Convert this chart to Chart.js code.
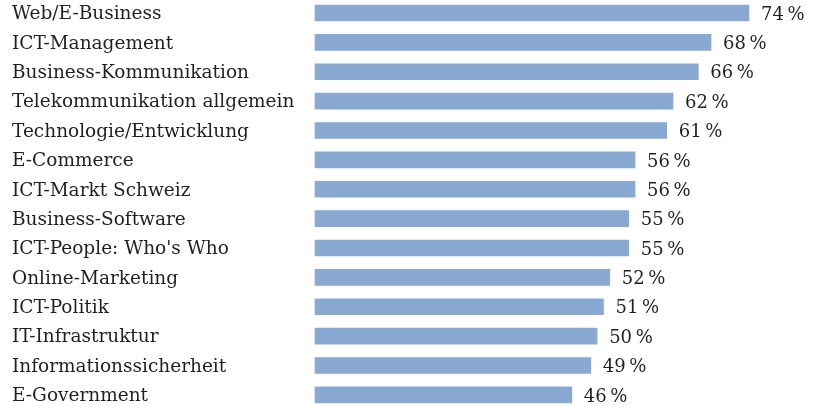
<!DOCTYPE html>
<html>
<head>
<meta charset="utf-8">
<script src="https://cdn.jsdelivr.net/npm/chart.js@4"></script>
<style>
  html, body { margin: 0; padding: 0; background: #fff; }
  #wrap { width: 816px; height: 406px; position: relative; }
</style>
</head>
<body>
<div id="wrap"><canvas id="chart"></canvas></div>
<script>
  // ── Data ─────────────────────────────────────────────
  const categories = [
    'Web/E-Business', 'ICT-Management', 'Business-Kommunikation',
    'Telekommunikation allgemein', 'Technologie/Entwicklung', 'E-Commerce',
    'ICT-Markt Schweiz', 'Business-Software', "ICT-People: Who's Who",
    'Online-Marketing', 'ICT-Politik', 'IT-Infrastruktur',
    'Informationssicherheit', 'E-Government'
  ];
  const shares = [74, 68, 66, 62, 61, 56, 56, 55, 55, 52, 51, 50, 49, 46];
  const axisMin = 5.4;
  const axisMax = 84.6;

  const serif = '"DejaVu Serif", "Liberation Serif", serif';
  const textColor = '#231f20';

  // value labels after each bar
  const valueLabels = {
    id: 'valueLabels',
    afterDatasetsDraw(chart) {
      const ctx = chart.ctx;
      const meta = chart.getDatasetMeta(0);
      ctx.save();
      ctx.font = '18px ' + serif;
      ctx.fillStyle = textColor;
      ctx.textBaseline = 'middle';
      ctx.textAlign = 'left';
      meta.data.forEach((bar, i) => {
        ctx.fillText(shares[i] + '\u2009%', bar.x + 12, bar.y + 2);
      });
      ctx.restore();
    }
  };

  new Chart(document.getElementById('chart'), {
    type: 'bar',
    data: {
      labels: categories,
      datasets: [{
        data: shares,
        base: axisMin,
        backgroundColor: '#89a9d3',
        borderWidth: 0,
        barThickness: 16,
        clip: false
      }]
    },
    options: {
      indexAxis: 'y',
      responsive: true,
      maintainAspectRatio: false,
      animation: false,
      layout: { padding: { top: 13, bottom: 8, left: 12, right: 0 } },
      plugins: { legend: { display: false }, tooltip: { enabled: false } },
      scales: {
        x: { type: 'linear', min: axisMin, max: axisMax, display: false },
        y: {
          type: 'category',
          offset: false,
          grid: { display: false },
          border: { display: false },
          ticks: {
            crossAlign: 'far',
            padding: 0,
            labelOffset: 1.5,
            color: textColor,
            font: { family: serif, size: 18.5 }
          },
          afterFit(scale) { scale.width = 303; }
        }
      }
    },
    plugins: [valueLabels]
  });
</script>
</body>
</html>
